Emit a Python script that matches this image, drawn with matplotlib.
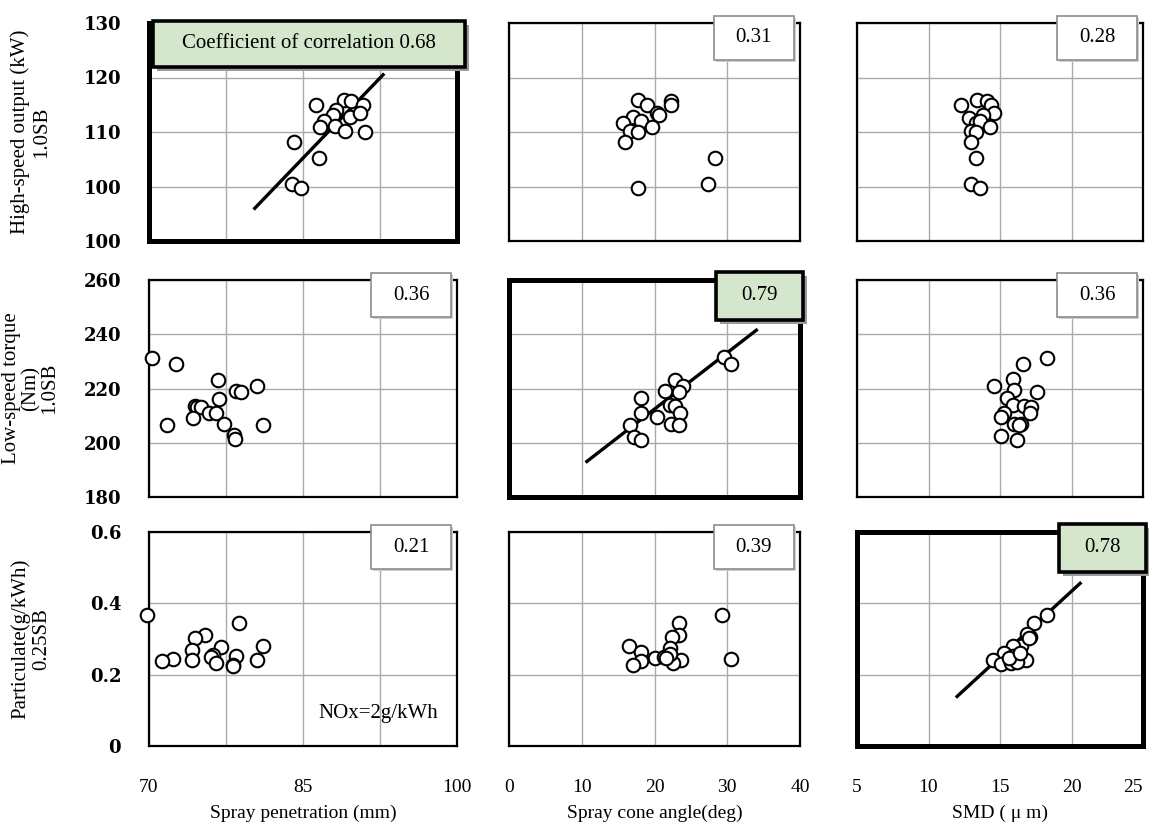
import matplotlib.pyplot as plt
import matplotlib.patches as mpatches
import numpy as np

plt.rcParams['font.family'] = ['Liberation Serif', 'DejaVu Serif']

# --- data ---
# row 1: high-speed output (kW)
hs_pen_x = [86.3, 89.0, 89.7, 90.8, 88.2, 87.9, 89.6, 90.6, 87.0, 86.7, 88.1, 89.1, 91.0, 84.1, 86.6, 83.9, 84.8]
hs_pen_y = [115.0, 115.8, 115.6, 115.0, 114.0, 113.2, 112.8, 113.4, 112.0, 111.0, 111.1, 110.1, 110.0, 108.1, 105.3, 100.5, 99.8]
hs_cone_x = [17.7, 19.0, 20.3, 20.6, 22.3, 22.3, 17.1, 15.7, 18.2, 19.6, 16.6, 17.7, 16.0, 28.3, 27.4, 17.7]
hs_cone_y = [115.8, 114.9, 113.4, 113.1, 115.6, 115.0, 112.8, 111.7, 112.1, 110.9, 110.1, 110.0, 108.1, 105.3, 100.5, 99.8]
hs_smd_x = [12.3, 13.4, 14.1, 14.4, 14.6, 12.8, 13.8, 13.3, 13.6, 14.3, 13.0, 13.3, 13.0, 13.3, 13.0, 13.6]
hs_smd_y = [115.0, 115.8, 115.6, 115.0, 113.4, 112.6, 113.2, 111.7, 112.1, 110.9, 110.1, 110.0, 108.1, 105.3, 100.5, 99.8]

# row 2: low-speed torque (Nm)
lt_pen_x = [70.3, 72.6, 76.7, 78.5, 79.0, 80.5, 76.8, 74.5, 74.7, 75.1, 75.8, 76.5, 74.3, 71.8, 77.3, 81.1, 78.3, 78.4]
lt_pen_y = [231.4, 228.9, 223.1, 219.2, 218.6, 220.9, 216.0, 213.7, 213.3, 213.0, 210.9, 211.1, 209.1, 206.6, 207.0, 206.6, 202.7, 201.4]
lt_cone_x = [29.5, 30.5, 22.8, 23.9, 21.4, 23.3, 18.2, 22.1, 22.8, 23.5, 18.2, 20.3, 16.7, 22.3, 23.3, 17.2, 18.2]
lt_cone_y = [231.7, 228.9, 223.1, 220.9, 219.2, 218.6, 216.4, 213.9, 213.7, 210.9, 211.1, 209.4, 206.6, 207.0, 206.6, 202.3, 201.1]
lt_smd_x = [18.3, 16.6, 15.9, 14.6, 16.0, 17.6, 15.5, 15.9, 16.7, 17.2, 17.1, 15.3, 15.1, 16.0, 16.5, 16.3, 15.1, 16.2]
lt_smd_y = [231.4, 228.9, 223.4, 220.9, 219.4, 218.6, 216.4, 213.9, 213.7, 213.3, 210.9, 210.9, 209.4, 207.0, 207.0, 206.6, 202.6, 201.1]

# row 3: particulate (g/kWh)
pm_pen_x = [69.8, 78.8, 75.5, 74.5, 81.1, 77.0, 74.2, 76.2, 72.3, 71.3, 74.2, 76.0, 78.5, 76.5, 80.5, 78.2, 78.2]
pm_pen_y = [0.367, 0.344, 0.311, 0.303, 0.280, 0.277, 0.270, 0.254, 0.245, 0.238, 0.240, 0.250, 0.252, 0.233, 0.240, 0.228, 0.223]
pm_cone_x = [29.3, 23.3, 23.4, 22.4, 22.1, 16.5, 18.1, 30.5, 20.1, 21.3, 23.7, 22.5, 18.1, 17.1, 22.1, 21.6]
pm_cone_y = [0.367, 0.346, 0.310, 0.305, 0.275, 0.280, 0.264, 0.245, 0.247, 0.250, 0.242, 0.233, 0.238, 0.228, 0.259, 0.247]
pm_smd_x = [18.3, 17.4, 17.1, 16.9, 16.5, 15.9, 15.3, 15.9, 14.5, 15.1, 15.8, 16.5, 16.8, 16.2, 15.6, 16.4, 17.0]
pm_smd_y = [0.367, 0.346, 0.306, 0.313, 0.280, 0.280, 0.261, 0.252, 0.242, 0.231, 0.233, 0.242, 0.240, 0.236, 0.247, 0.261, 0.303]

# correlation coefficients
r_values = [[0.68, 0.31, 0.28],
            [0.36, 0.79, 0.36],
            [0.21, 0.39, 0.78]]

# regression lines drawn in the highlighted panels (x ends, y ends)
fit_lines = {(0, 0): ([80.3, 92.8], [96.0, 120.5]),
             (1, 1): ([10.7, 34.0], [193.1, 241.5]),
             (2, 2): ([12.0, 20.6], [0.139, 0.456])}

x_titles = ['Spray penetration (mm)', 'Spray cone angle(deg)', 'SMD ( \u03bc m)']
y_titles = ['High-speed output (kW)\n1.0SB', 'Low-speed torque\n(Nm)\n1.0SB', 'Particulate(g/kWh)\n0.25SB']
x_ticks = [[70, 77.5, 85, 92.5, 100], [0, 10, 20, 30, 40], [5, 10, 15, 20, 25]]
x_ticklabels = [['70', '', '85', '', '100'], ['0', '10', '20', '30', '40'], ['5', '10', '15', '20', '25']]
y_ticks = [[90, 100, 110, 120, 130], [180, 200, 220, 240, 260], [0, 0.2, 0.4, 0.6]]
y_ticklabels = [['100', '100', '110', '120', '130'], ['180', '200', '220', '240', '260'], ['0', '0.2', '0.4', '0.6']]

panels = [[(hs_pen_x, hs_pen_y), (hs_cone_x, hs_cone_y), (hs_smd_x, hs_smd_y)],
          [(lt_pen_x, lt_pen_y), (lt_cone_x, lt_cone_y), (lt_smd_x, lt_smd_y)],
          [(pm_pen_x, pm_pen_y), (pm_cone_x, pm_cone_y), (pm_smd_x, pm_smd_y)]]

# --- layout in pixels ---
W, H = 1149, 824
cols = [(149, 457), (509, 800), (857, 1143)]
rows = [(23, 241), (280, 497), (532, 746)]

fig = plt.figure(figsize=(W / 100, H / 100), dpi=100)


def px_rect(x0, y0, x1, y1, **kw):
    r = mpatches.Rectangle((x0 / W, 1 - y1 / H), (x1 - x0) / W, (y1 - y0) / H,
                           transform=fig.transFigure, **kw)
    fig.add_artist(r)
    return r


for i, (t, b) in enumerate(rows):
    for j, (l, r) in enumerate(cols):
        ax = fig.add_axes([l / W, 1 - b / H, (r - l) / W, (b - t) / H])
        highlight = (i == j)
        xs, ys = panels[i][j]
        ax.set_axisbelow(True)
        ax.grid(True, color='#aaaaaa', lw=1.0)
        ax.set_xticks(x_ticks[j])
        ax.set_yticks(y_ticks[i])
        ax.set_xlim(x_ticks[j][0], x_ticks[j][-1])
        ax.set_ylim(y_ticks[i][0], y_ticks[i][-1])
        ax.tick_params(length=0)
        if i == 2:
            labs = ax.set_xticklabels(x_ticklabels[j], fontsize=14)
            if j == 2:
                labs[-1].set_horizontalalignment('right')
            ax.tick_params(axis='x', pad=24)
            ax.set_xlabel(x_titles[j], fontsize=14, labelpad=6)
        else:
            ax.set_xticklabels([])
        if j == 0:
            ax.set_yticklabels(y_ticklabels[i], family='DejaVu Serif', fontweight='bold', fontsize=13)
            ax.tick_params(axis='y', pad=20)
        else:
            ax.set_yticklabels([])
        for s in ax.spines.values():
            s.set_linewidth(3.6 if highlight else 1.6)
            s.set_color('black')
        if (i, j) in fit_lines:
            lx, ly = fit_lines[(i, j)]
            ax.plot(lx, ly, color='black', lw=2.4, zorder=2)
        ax.scatter(xs, ys, s=95, facecolor='white', edgecolor='black', lw=1.5,
                   zorder=3, clip_on=False)

        # correlation box
        if highlight and i == 0:
            bx0, bx1, by0, by1 = l + 4, r + 8, t - 2, t + 44
            label = 'Coefficient of correlation %.2f' % r_values[i][j]
        elif highlight:
            bx0, bx1, by0, by1 = r - 84, r + 3, t - 8, t + 40
            label = '%.2f' % r_values[i][j]
        else:
            bx0, bx1, by0, by1 = r - 86, r - 6, t - 7, t + 37
            label = '%.2f' % r_values[i][j]
        if highlight:
            px_rect(bx0 + 4, by0 + 4, bx1 + 4, by1 + 4, fc='#9a9a9a', ec='none', zorder=5)
            px_rect(bx0, by0, bx1, by1, fc='#d4e6cb', ec='black', lw=2.6, zorder=6)
        else:
            px_rect(bx0 + 2, by0 + 2, bx1 + 2, by1 + 2, fc='#cfcfcf', ec='none', zorder=5)
            px_rect(bx0, by0, bx1, by1, fc='white', ec='#8c8c8c', lw=1.2, zorder=6)
        fig.text((bx0 + bx1) / 2 / W, 1 - (by0 + by1) / 2 / H, label, fontsize=15,
                 ha='center', va='center', zorder=7)

        if i == 2 and j == 0:
            ax.text(0.94, 0.15, 'NOx=2g/kWh', transform=ax.transAxes, fontsize=15,
                    ha='right', va='center')

# y titles
for i, (t, b) in enumerate(rows):
    fig.text(31 / W, 1 - (t + b) / 2 / H, y_titles[i], rotation=90, fontsize=15,
             ha='center', va='center', multialignment='center',
             linespacing=1.0 if i == 1 else 1.15)

fig.savefig('out.png', dpi=100)
